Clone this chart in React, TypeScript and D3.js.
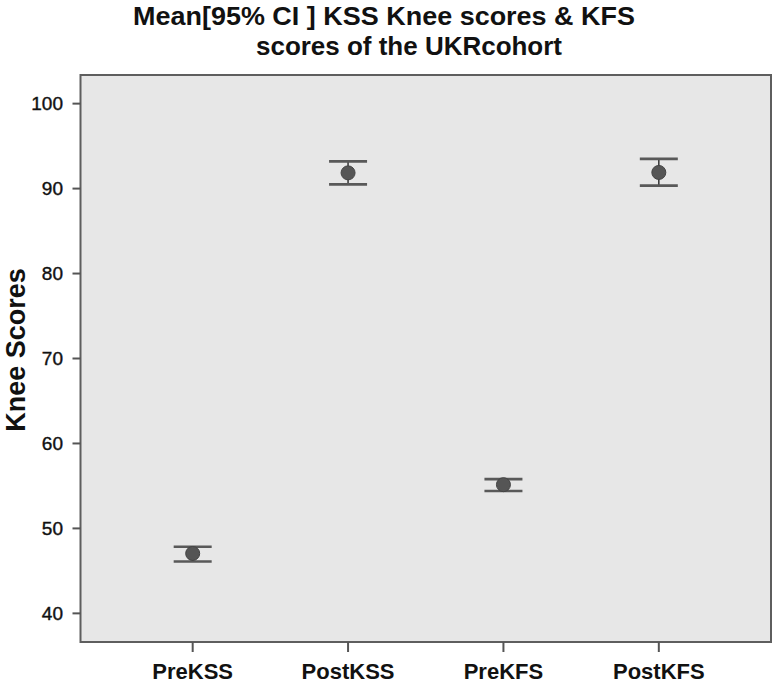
import React from "react";
import * as d3 from "d3";

const categories = ["PreKSS", "PostKSS", "PreKFS", "PostKFS"];
const means = [47.05, 91.85, 55.15, 91.9];
const lowerCI = [46.1, 90.5, 54.4, 90.35];
const upperCI = [47.85, 93.2, 55.8, 93.5];
const yTicks = [40, 50, 60, 70, 80, 90, 100];
const titleLines = ["Mean[95% CI ] KSS Knee scores & KFS", "scores of the UKRcohort"];
const yLabel = "Knee Scores";

const W = 774;
const H = 683;
const plot = { left: 80.5, right: 771, top: 75, bottom: 642 };

export default function App() {
  const x = d3
    .scalePoint<string>()
    .domain(categories)
    .range([plot.left, plot.right])
    .padding(0.722);
  const y = d3.scaleLinear().domain([36.63, 103.37]).range([plot.bottom, plot.top]);
  const font = "'Liberation Sans', Arial, sans-serif";
  const capHalf = 19;
  const lineColor = "#595959";

  return (
    <svg
      width={W}
      height={H}
      style={{ position: "absolute", left: 0, top: 0, background: "#fff" }}
      fontFamily={font}
    >
      <text x={133} y={25} fontSize={25} fontWeight="bold" textLength={502} lengthAdjust="spacingAndGlyphs" fill="#111">
        {titleLines[0]}
      </text>
      <text x={256} y={55} fontSize={25} fontWeight="bold" textLength={306} lengthAdjust="spacingAndGlyphs" fill="#111">
        {titleLines[1]}
      </text>

      <rect
        x={plot.left}
        y={plot.top}
        width={plot.right - plot.left}
        height={plot.bottom - plot.top}
        fill="#e7e7e7"
        stroke="#5e5e5e"
        strokeWidth={2}
      />

      {yTicks.map((t) => (
        <g key={t}>
          <line x1={plot.left - 8} x2={plot.left} y1={y(t)} y2={y(t)} stroke="#555" strokeWidth={2} />
          <text x={63} y={y(t)} dy="0.36em" textAnchor="end" fontSize={19} fill="#111" stroke="#111" strokeWidth={0.4}>
            {t}
          </text>
        </g>
      ))}

      {categories.map((c) => (
        <g key={c}>
          <line x1={x(c)} x2={x(c)} y1={plot.bottom} y2={plot.bottom + 10} stroke="#555" strokeWidth={2} />
          <text x={x(c)} y={679} textAnchor="middle" fontSize={22} fontWeight="bold" fill="#111">
            {c}
          </text>
        </g>
      ))}

      <text
        transform={`translate(25, 350) rotate(-90)`}
        textAnchor="middle"
        fontSize={27}
        fontWeight="bold"
        fill="#111"
      >
        {yLabel}
      </text>

      {categories.map((c, i) => {
        const cx = x(c) as number;
        return (
          <g key={c}>
            <line x1={cx} x2={cx} y1={y(upperCI[i])} y2={y(lowerCI[i])} stroke="#333" strokeWidth={1.5} />
            <line
              x1={cx - capHalf}
              x2={cx + capHalf}
              y1={y(upperCI[i])}
              y2={y(upperCI[i])}
              stroke={lineColor}
              strokeWidth={2.6}
            />
            <line
              x1={cx - capHalf}
              x2={cx + capHalf}
              y1={y(lowerCI[i])}
              y2={y(lowerCI[i])}
              stroke={lineColor}
              strokeWidth={2.6}
            />
            <circle cx={cx} cy={y(means[i])} r={7} fill="#555" stroke="#444" strokeWidth={1} />
          </g>
        );
      })}
    </svg>
  );
}
